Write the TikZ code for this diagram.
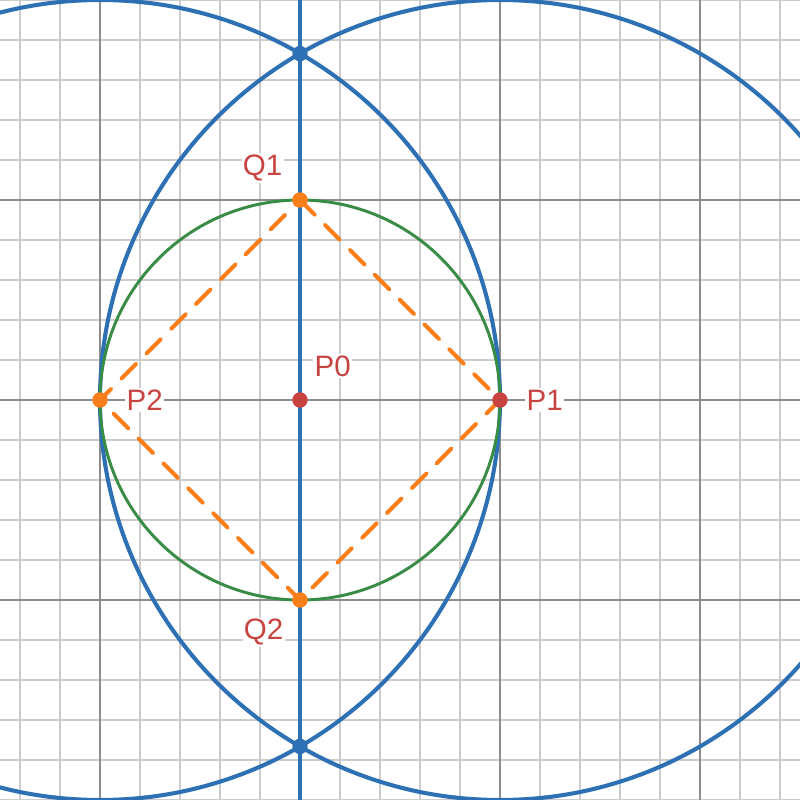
\documentclass[tikz,border=0pt]{standalone}
\usepackage{fontspec}
\setmainfont{Liberation Sans}
\usetikzlibrary{positioning}

\definecolor{dblue}{HTML}{2D70B3}
\definecolor{dgreen}{HTML}{388C46}
\definecolor{dorange}{HTML}{FA7E19}
\definecolor{dred}{HTML}{C74440}

\tikzset{
    minorgrid/.style={line width=0.8pt,black!20},
    majorgrid/.style={line width=1pt,black!45},
    bluecurve/.style={line width=2.9pt,dblue},
    greencurve/.style={line width=2.1pt,dgreen},
    dashline/.style={line width=2.8pt,dorange,line cap=round,dash pattern=on 15pt off 10pt},
    dot/.style={circle,inner sep=0pt,minimum size=11pt},
    lbl/.style={text=dred,fill=white,inner sep=1pt,font=\fontsize{21}{24}\selectfont}
}

\begin{document}
\begin{tikzpicture}[x=5cm,y=5cm]
    \useasboundingbox (-1.5,-2) rectangle (2.5,2);
    \clip (-1.5,-2) rectangle (2.5,2);
    
    % grid
    \foreach \t in {-1.4,-1.2,...,2.45}
        \draw[minorgrid] (\t,-2) -- (\t,2);
    \foreach \t in {-2,-1.8,...,2.05}
        \draw[minorgrid] (-1.5,\t) -- (2.5,\t);
    \foreach \t in {-1,0,1,2}
        \draw[majorgrid] (\t,-2) -- (\t,2);
    \foreach \t in {-1,0,1}
        \draw[majorgrid] (-1.5,\t) -- (2.5,\t);
    
    \coordinate (p0) at (0,0);
    \coordinate (p1) at (1,0);
    \coordinate (p2) at (-1,0);
    \coordinate (q1) at (0,1);
    \coordinate (q2) at (0,-1);
    \coordinate (i1) at (0,1.7321);
    \coordinate (i2) at (0,-1.7321);
    \coordinate (top) at (0,2);
    \coordinate (bot) at (0,-2);
    
    \draw[bluecurve] (p2) circle (2);
    \draw[bluecurve] (p1) circle (2);
    \draw[bluecurve] (top) -- (bot);
    \draw[greencurve] (p0) circle (1);
    \draw[dashline] (q1) -- (p1) -- (q2) -- (p2) -- cycle;
    
    \node[dot,fill=dblue] (d1) at (i1) {};
    \node[dot,fill=dblue] (d2) at (i2) {};
    \node[dot,fill=dred] (d0) at (p0) {};
    \node[dot,fill=dred] (dp1) at (p1) {};
    \node[dot,fill=dorange] (dp2) at (p2) {};
    \node[dot,fill=dorange] (dq1) at (q1) {};
    \node[dot,fill=dorange] (dq2) at (q2) {};
    
    \node[lbl,anchor=west] (lp0) at (0.065,0.17) {P0};
    \node[lbl,anchor=west] (lp1) at (1.125,0) {P1};
    \node[lbl,anchor=west] (lp2) at (-0.875,0) {P2};
    \node[lbl,anchor=east] (lq1) at (-0.08,1.16) {Q1};
    \node[lbl,anchor=east] (lq2) at (-0.075,-1.16) {Q2};
\end{tikzpicture}
\end{document}
